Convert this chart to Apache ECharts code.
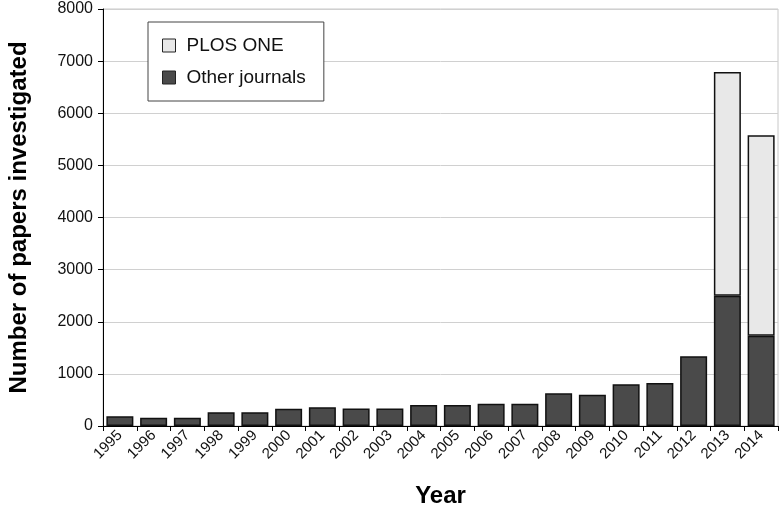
<!DOCTYPE html>
<html>
<head>
<meta charset="utf-8">
<script src="https://cdn.jsdelivr.net/npm/echarts@6/dist/echarts.min.js"></script>
<style>
  html, body { margin: 0; padding: 0; background: #fff; }
  #main { width: 782px; height: 512px; }
</style>
</head>
<body>
<div id="main"></div>
<script>
// data
var years = ['1995', '1996', '1997', '1998', '1999', '2000', '2001', '2002', '2003', '2004',
             '2005', '2006', '2007', '2008', '2009', '2010', '2011', '2012', '2013', '2014'];
var otherJournals = [186, 160, 160, 263, 263, 332, 359, 335, 335, 403,
                     403, 428, 428, 627, 600, 800, 825, 1337, 2500, 1730];
var plosOne = ['-', '-', '-', '-', '-', '-', '-', '-', '-', '-',
               '-', '-', '-', '-', '-', '-', '-', '-', 4290, 3850];
var yTicks = [0, 1000, 2000, 3000, 4000, 5000, 6000, 7000, 8000];

var myChart = echarts.init(document.getElementById('main'));

var font = 'Liberation Sans, Arial, sans-serif';

var option = {
    animation: false,
    textStyle: { fontFamily: font },
    grid: {
        left: 103, right: 4, top: 9, bottom: 86,
        outerBoundsMode: 'none',
        containLabel: false,
        show: true, borderColor: '#c8c8c8', borderWidth: 1
    },
    legend: {
        orient: 'vertical',
        left: 148, top: 22,
        padding: [14, 18, 14, 14],
        icon: 'rect',
        itemWidth: 13, itemHeight: 13, itemGap: 13,
        borderColor: '#444', borderWidth: 1,
        backgroundColor: '#fff',
        data: ['PLOS ONE', 'Other journals'],
        itemStyle: { borderColor: '#222', borderWidth: 1 },
        textStyle: { fontSize: 19, color: '#111', fontFamily: font, padding: [0, 0, 0, 6] }
    },
    xAxis: {
        type: 'category',
        data: years,
        name: 'Year',
        nameLocation: 'middle',
        nameGap: 58,
        nameTextStyle: { fontSize: 24, fontWeight: 'bold', color: '#000', fontFamily: font },
        axisLine: { lineStyle: { color: '#000', width: 1 } },
        axisTick: { show: true, alignWithLabel: false, length: 5, lineStyle: { color: '#000' } },
        axisLabel: { rotate: 45, fontSize: 15, color: '#111', margin: 7, interval: 0 }
    },
    yAxis: {
        type: 'value',
        min: yTicks[0],
        max: yTicks[yTicks.length - 1],
        interval: 1000,
        name: 'Number of papers investigated',
        nameLocation: 'middle',
        nameGap: 72,
        nameTextStyle: { fontSize: 24, fontWeight: 'bold', color: '#000', fontFamily: font },
        axisLine: { show: true, lineStyle: { color: '#000', width: 1 } },
        axisTick: { show: true, length: 5, lineStyle: { color: '#000' } },
        axisLabel: {
            fontSize: 16, color: '#111', margin: 10,
            formatter: function (v) { return String(v); }
        },
        splitLine: { lineStyle: { color: '#d0d0d0', width: 1 } }
    },
    series: [
        {
            name: 'Other journals',
            type: 'bar',
            stack: 'papers',
            data: otherJournals,
            barCategoryGap: '20%',
            itemStyle: { color: '#4a4a4a', borderColor: '#111', borderWidth: 1.5 }
        },
        {
            name: 'PLOS ONE',
            type: 'bar',
            stack: 'papers',
            data: plosOne,
            itemStyle: { color: '#e8e8e8', borderColor: '#111', borderWidth: 1.5 }
        }
    ]
};

myChart.setOption(option);
</script>
</body>
</html>
